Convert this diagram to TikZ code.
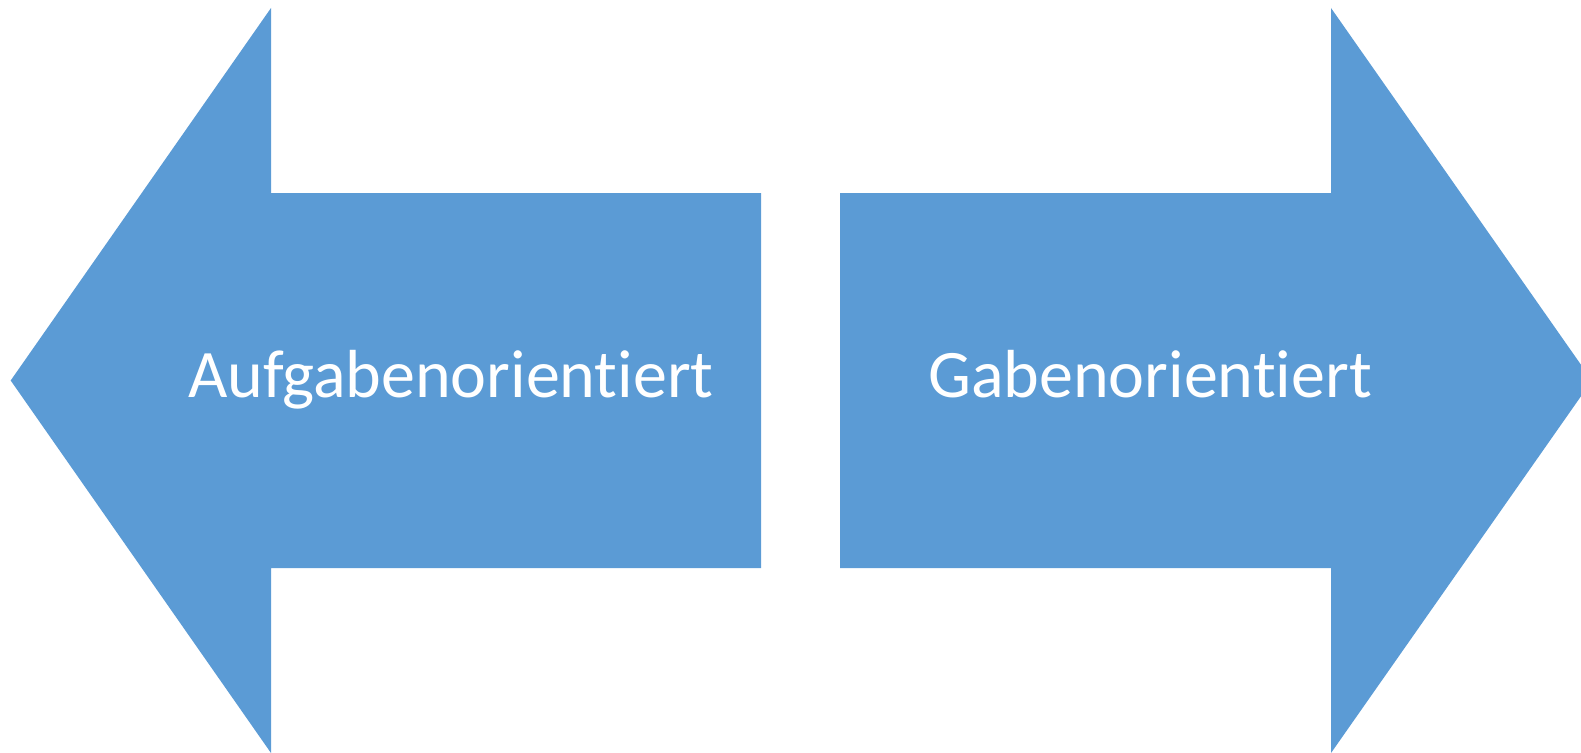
\documentclass[tikz,border=0pt]{standalone}
\usepackage{fontspec}
\setmainfont{Carlito}[RawFeature={-liga;-dlig;-clig}]
\definecolor{arrowblue}{HTML}{5B9BD5}
\begin{document}
\begin{tikzpicture}[x=1pt,y=-1pt,
  bigarrow/.style={fill=arrowblue,draw=none},
  label/.style={text=white,font=\fontsize{68}{80}\selectfont,inner sep=0pt,anchor=base}]
\useasboundingbox (0,0) rectangle (1581,752);
\begin{scope}
\clip (0,0) rectangle (1581,752);
\fill[bigarrow] (10.7,380.5) -- (271,8) -- (271,193) -- (761,193) -- (761,568) -- (271,568) -- (271,753) -- cycle;
\fill[bigarrow] (1592,380.5) -- (1331,8) -- (1331,193) -- (840,193) -- (840,568) -- (1331,568) -- (1331,753) -- cycle;
\end{scope}
\node[label] (left) at (451,397) {Aufgabenorientiert};
\node[label] (right) at (1150,397) {Gabenorientiert};
\end{tikzpicture}
\end{document}
